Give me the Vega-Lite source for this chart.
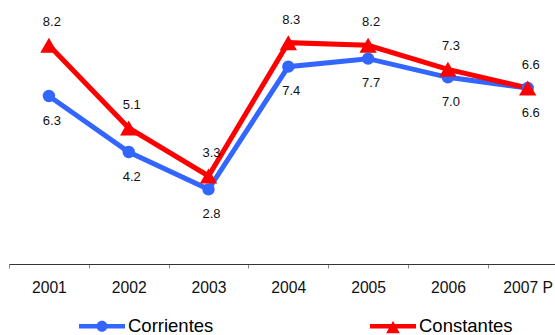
{
  "$schema": "https://vega.github.io/schema/vega-lite/v6.json",
  "width": 546,
  "height": 264,
  "autosize": {"type": "none"},
  "padding": {"left": 9, "top": 0, "right": 0, "bottom": 71},
  "background": "white",
  "config": {"view": {"stroke": null}, "font": "Liberation Sans"},
  "data": {
    "values": [
      {"year": 2001, "serie": "Corrientes", "value": 6.3},
      {"year": 2002, "serie": "Corrientes", "value": 4.2},
      {"year": 2003, "serie": "Corrientes", "value": 2.8},
      {"year": 2004, "serie": "Corrientes", "value": 7.4},
      {"year": 2005, "serie": "Corrientes", "value": 7.7},
      {"year": 2006, "serie": "Corrientes", "value": 7.0},
      {"year": 2007, "serie": "Corrientes", "value": 6.6},
      {"year": 2001, "serie": "Constantes", "value": 8.2},
      {"year": 2002, "serie": "Constantes", "value": 5.1},
      {"year": 2003, "serie": "Constantes", "value": 3.3},
      {"year": 2004, "serie": "Constantes", "value": 8.3},
      {"year": 2005, "serie": "Constantes", "value": 8.2},
      {"year": 2006, "serie": "Constantes", "value": 7.3},
      {"year": 2007, "serie": "Constantes", "value": 6.6}
    ]
  },
  "encoding": {
    "x": {
      "field": "year",
      "type": "quantitative",
      "scale": {"domain": [2000.5, 2007.342], "nice": false, "zero": false},
      "axis": {
        "title": null,
        "values": [2000.5, 2001.5, 2002.5, 2003.5, 2004.5, 2005.5, 2006.5],
        "labelExpr": "datum.value > 2006 ? '2007 P' : '' + (datum.value + 0.5)",
        "labelOffset": 39.9,
        "labelFlush": false,
        "labelOverlap": false,
        "labelBound": false,
        "grid": false,
        "tickSize": 4,
        "tickColor": "#888888",
        "tickWidth": 1,
        "domainColor": "#333333",
        "domainWidth": 1,
        "labelFontSize": 15.7,
        "labelColor": "#111111",
        "labelPadding": 12,
        "labelFont": "Liberation Sans"
      }
    },
    "y": {
      "field": "value",
      "type": "quantitative",
      "scale": {"domain": [0, 9.9], "nice": false, "zero": true},
      "axis": null
    },
    "color": {
      "field": "serie",
      "type": "nominal",
      "scale": {"domain": ["Corrientes", "Constantes"], "range": ["#3366FF", "#FF0000"]},
      "legend": {
        "title": null,
        "orient": "none",
        "direction": "horizontal",
        "legendX": 70,
        "legendY": 303,
        "columnPadding": 156,
        "symbolSize": 2116,
        "symbolStrokeWidth": 0,
        "labelFontSize": 18.5,
        "labelColor": "#000000",
        "labelFont": "Liberation Sans",
        "labelOffset": 3,
        "padding": 0,
        "encode": {
          "symbols": {
            "update": {
              "shape": {"signal": "datum.value == 'Corrientes' ? 'M-1,-0.098H1V0.098H-1Z M-0.24,0A0.24,0.24 0 1,1 0.24,0A0.24,0.24 0 1,1 -0.24,0Z' : 'M-1,-0.098H1V0.098H-1Z M0,-0.23L0.3,0.3L-0.3,0.3Z'"},
              "fill": {"signal": "datum.value == 'Corrientes' ? '#3366FF' : '#FF0000'"},
              "fillOpacity": {"value": 1},
              "strokeWidth": {"value": 0},
              "size": {"value": 2116}
            }
          }
        }
      }
    }
  },
  "layer": [
    {
      "mark": {"type": "line", "strokeWidth": 5, "strokeJoin": "miter"}
    },
    {
      "mark": {"type": "point", "filled": true, "opacity": 1},
      "encoding": {
        "shape": {
          "condition": {"test": "datum.serie == 'Corrientes'", "value": "circle"},
          "value": "triangle-up"
        },
        "size": {
          "condition": {"test": "datum.serie == 'Corrientes'", "value": 154},
          "value": 300
        }
      }
    },
    {
      "transform": [{"filter": "datum.serie == 'Constantes'"}],
      "mark": {"type": "text", "dy": -23, "dx": 3, "fontSize": 13, "font": "Liberation Sans", "baseline": "middle"},
      "encoding": {
        "text": {"field": "value", "type": "quantitative", "format": ".1f"},
        "color": {"value": "#111111"}
      }
    },
    {
      "transform": [{"filter": "datum.serie == 'Corrientes'"}],
      "mark": {"type": "text", "dy": 24.5, "dx": 3, "fontSize": 13, "font": "Liberation Sans", "baseline": "middle"},
      "encoding": {
        "text": {"field": "value", "type": "quantitative", "format": ".1f"},
        "color": {"value": "#111111"}
      }
    }
  ]
}
